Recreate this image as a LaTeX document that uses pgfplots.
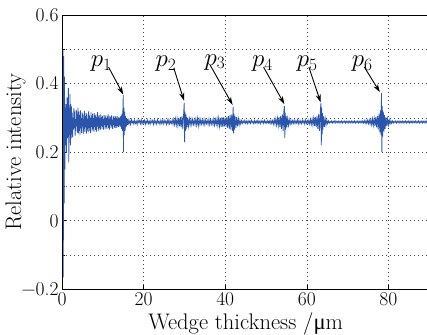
\documentclass[border=0pt]{standalone}
\usepackage{fontspec}
\newfontfamily\gkfont{Liberation Serif}
\usepackage{pgfplots}
\pgfplotsset{compat=1.18}
\usetikzlibrary{arrows.meta,calc}
\definecolor{sig}{RGB}{42,85,170}
\begin{document}
\begin{tikzpicture}
\begin{axis}[
  scale only axis,
  width=366.8pt, height=274pt,
  xmin=0, xmax=90, ymin=-0.2, ymax=0.6,
  xtick={0,20,40,60,80},
  xticklabels={0,20,40,60,80},
  ytick={-0.2,0,0.2,0.4,0.6},
  yticklabels={−0.2,0,0.2,0.4,0.6},
  minor ytick={-0.1,0.1,0.3,0.5},
  grid=both,
  major grid style={line width=0.6pt, dash pattern=on 1pt off 3pt, black!75},
  minor grid style={line width=0.6pt, dash pattern=on 1pt off 3pt, black!75},
  tick align=inside,
  xtick pos=bottom, ytick pos=left,
  major tick length=4pt, minor tick length=3pt,
  axis line style={draw=none},
  every tick/.style={black, line width=0.6pt},
  tick label style={font=\fontsize{19.5}{22}\selectfont},
  label style={font=\fontsize{22.5}{26}\selectfont},
  xlabel={Wedge thickness /{\gkfont μ}m},
  ylabel={Relative intensity},
  xlabel style={at={(rel axis cs:0.5,-0.146)}, anchor=base},
  ylabel style={at={(rel axis cs:-0.1118,0.5)}, anchor=base, rotate=0},
  clip=true,
]
\coordinate (ll) at (rel axis cs:0,0);
\coordinate (ur) at (rel axis cs:1,1);
\addplot[sig, line width=0.8pt] coordinates {
(0.00,0.28) (0.10,-0.12) (0.20,0.50) (0.30,-0.165) (0.40,0.48) (0.50,0.05) (0.60,0.42) (0.70,0.15)
(0.80,0.33) (0.90,0.22) (1.00,0.34) (1.10,0.20) (1.20,0.36) (1.30,0.24) (1.40,0.31) (1.55,0.387)
(1.65,0.17) (1.75,0.33) (1.85,0.25) (1.95,0.37) (2.05,0.22) (2.15,0.34) (2.25,0.24)
(2.3,0.333) (2.4,0.252) (2.5,0.315) (2.6,0.243) (2.7,0.301) (2.8,0.266) (2.9,0.328) (3.0,0.270)
(3.1,0.319) (3.2,0.248) (3.3,0.297) (3.4,0.262) (3.5,0.323) (3.6,0.275) (3.7,0.310) (3.8,0.257)
(3.9,0.330) (4.0,0.255)
(4.1,0.318) (4.2,0.262) (4.3,0.309) (4.4,0.251) (4.5,0.322) (4.6,0.270) (4.7,0.300) (4.8,0.256)
(4.9,0.316) (5.0,0.275) (5.1,0.312) (5.2,0.253) (5.3,0.296) (5.4,0.268) (5.5,0.320) (5.6,0.259)
(5.7,0.305) (5.8,0.272) (5.9,0.314) (6.0,0.254) (6.1,0.310) (6.2,0.266) (6.3,0.298) (6.4,0.258)
(6.5,0.319) (6.6,0.271) (6.7,0.307) (6.8,0.262) (6.9,0.300) (7.0,0.256) (7.1,0.316) (7.2,0.274)
(7.3,0.304) (7.4,0.263) (7.5,0.312) (7.6,0.268) (7.7,0.299) (7.8,0.260) (7.9,0.314) (8.0,0.273)
(8.1,0.306) (8.2,0.265) (8.3,0.310) (8.4,0.259) (8.5,0.301) (8.6,0.276) (8.7,0.317) (8.8,0.267)
(8.9,0.303) (9.0,0.262)
(9.1,0.308) (9.2,0.270) (9.3,0.299) (9.4,0.266) (9.5,0.310) (9.6,0.276) (9.7,0.302) (9.8,0.268)
(9.9,0.306) (10.0,0.273) (10.1,0.297) (10.2,0.265) (10.3,0.309) (10.4,0.279) (10.5,0.300) (10.6,0.269)
(10.7,0.307) (10.8,0.274) (10.9,0.296) (11.0,0.267) (11.1,0.304) (11.2,0.278) (11.3,0.310) (11.4,0.271)
(11.5,0.298) (11.6,0.266) (11.7,0.305) (11.8,0.280) (11.9,0.301) (12.0,0.270) (12.1,0.307) (12.2,0.275)
(12.3,0.295) (12.4,0.268) (12.5,0.303) (12.6,0.279) (12.7,0.306) (12.8,0.272) (12.9,0.297) (13.0,0.270)
(13.1,0.304) (13.2,0.277) (13.3,0.300) (13.4,0.271) (13.5,0.305) (13.6,0.276) (13.7,0.297) (13.8,0.274)
(13.9,0.302) (14.0,0.278) (14.1,0.299) (14.2,0.273) (14.3,0.304) (14.4,0.275) (14.5,0.307) (14.6,0.268)
(14.7,0.312) (14.8,0.262) (14.9,0.318) (15.0,0.366) (15.05,0.200) (15.15,0.330) (15.25,0.250) (15.35,0.318)
(15.45,0.262) (15.55,0.305) (15.65,0.272) (15.75,0.300) (15.85,0.276) (15.95,0.297) (16.05,0.280)
(16.2,0.294) (16.4,0.282) (16.6,0.292) (16.8,0.281) (17.0,0.295) (17.2,0.285) (17.4,0.291) (17.6,0.282)
(17.8,0.293) (18.0,0.284) (18.2,0.290) (18.4,0.281) (18.6,0.294) (18.8,0.286) (19.0,0.292) (19.2,0.283)
(19.4,0.295) (19.6,0.282) (19.8,0.290) (20.0,0.285) (20.2,0.293) (20.4,0.281) (20.6,0.291) (20.8,0.284)
(21.0,0.294) (21.2,0.283) (21.4,0.290) (21.6,0.282) (21.8,0.293) (22.0,0.286) (22.2,0.292) (22.4,0.281)
(22.6,0.294) (22.8,0.284) (23.0,0.291) (23.2,0.282) (23.4,0.295) (23.6,0.285) (23.8,0.290) (24.0,0.281)
(24.2,0.293) (24.4,0.284) (24.6,0.292) (24.8,0.282) (25.0,0.294) (25.2,0.285) (25.4,0.291) (25.6,0.281)
(25.8,0.293) (26.0,0.283) (26.2,0.295) (26.4,0.282) (26.6,0.290) (26.8,0.284) (27.0,0.294) (27.2,0.281)
(27.4,0.296) (27.6,0.280) (27.8,0.297) (28.0,0.279) (28.2,0.298) (28.4,0.277) (28.6,0.300) (28.8,0.275)
(29.0,0.302) (29.2,0.272) (29.4,0.305) (29.6,0.268) (29.8,0.310) (29.95,0.344) (30.05,0.229) (30.15,0.318)
(30.25,0.262) (30.35,0.310) (30.45,0.268) (30.55,0.303) (30.65,0.273) (30.8,0.300) (31.0,0.276) (31.2,0.297)
(31.4,0.279) (31.6,0.296) (31.8,0.280)
(32.0,0.295) (32.2,0.281) (32.4,0.294) (32.6,0.280) (32.8,0.297) (33.0,0.279) (33.2,0.298) (33.4,0.277)
(33.6,0.296) (33.8,0.280) (34.0,0.295) (34.2,0.282) (34.4,0.293) (34.6,0.281) (34.8,0.295) (35.0,0.280)
(35.2,0.294) (35.4,0.283) (35.6,0.292) (35.8,0.281) (36.0,0.296) (36.2,0.280) (36.4,0.294) (36.6,0.282)
(36.8,0.293) (37.0,0.280) (37.2,0.297) (37.4,0.279) (37.6,0.295) (37.8,0.281) (38.0,0.298) (38.2,0.277)
(38.4,0.299) (38.6,0.276) (38.8,0.300) (39.0,0.274) (39.2,0.302) (39.4,0.273) (39.6,0.301) (39.8,0.275)
(40.0,0.300) (40.2,0.274) (40.4,0.303) (40.6,0.271) (40.8,0.305) (41.0,0.268) (41.2,0.308) (41.4,0.265)
(41.6,0.310) (41.8,0.262) (41.95,0.332) (42.05,0.255) (42.15,0.312) (42.25,0.266) (42.4,0.306) (42.6,0.270)
(42.8,0.302) (43.0,0.275) (43.2,0.297) (43.4,0.279) (43.6,0.294) (43.8,0.282)
(44.0,0.292) (44.2,0.284) (44.4,0.291) (44.6,0.285) (44.8,0.293) (45.0,0.284) (45.2,0.290) (45.4,0.283)
(45.6,0.292) (45.8,0.285) (46.0,0.291) (46.2,0.284) (46.4,0.293) (46.6,0.286) (46.8,0.290) (47.0,0.283)
(47.2,0.292) (47.4,0.285) (47.6,0.291) (47.8,0.284) (48.0,0.293) (48.2,0.285) (48.4,0.290) (48.6,0.283)
(48.8,0.292) (49.0,0.286) (49.2,0.291) (49.4,0.284) (49.6,0.293) (49.8,0.285) (50.0,0.290) (50.2,0.284)
(50.4,0.292) (50.6,0.285) (50.8,0.291) (51.0,0.283) (51.2,0.293) (51.4,0.284) (51.6,0.292) (51.8,0.282)
(52.0,0.295) (52.2,0.281) (52.4,0.297) (52.6,0.279) (52.8,0.299) (53.0,0.277) (53.2,0.302) (53.4,0.273)
(53.6,0.306) (53.8,0.268) (54.0,0.310) (54.2,0.262) (54.35,0.316) (54.5,0.334) (54.6,0.241) (54.7,0.315)
(54.8,0.266) (54.95,0.305) (55.1,0.272) (55.3,0.298) (55.5,0.278) (55.7,0.295) (55.9,0.281) (56.1,0.293)
(56.3,0.283)
(56.5,0.292) (56.7,0.284) (56.9,0.293) (57.1,0.283) (57.3,0.291) (57.5,0.285) (57.7,0.294) (57.9,0.282)
(58.1,0.292) (58.3,0.284) (58.5,0.291) (58.7,0.283) (58.9,0.293) (59.1,0.285) (59.3,0.292) (59.5,0.282)
(59.7,0.294) (59.9,0.284) (60.1,0.291) (60.3,0.283) (60.5,0.293) (60.7,0.282) (60.9,0.295) (61.1,0.281)
(61.3,0.297) (61.5,0.279) (61.7,0.299) (61.9,0.276) (62.1,0.302) (62.3,0.273) (62.5,0.305) (62.7,0.268)
(62.9,0.310) (63.1,0.262) (63.3,0.318) (63.45,0.342) (63.55,0.220) (63.65,0.330) (63.75,0.252) (63.85,0.314)
(63.95,0.266) (64.1,0.304) (64.3,0.274) (64.5,0.298) (64.7,0.279) (64.9,0.294) (65.1,0.283)
(65.3,0.291) (65.5,0.285) (65.7,0.290) (65.9,0.286) (66.1,0.291) (66.3,0.285) (66.5,0.290) (66.7,0.286)
(66.9,0.292) (67.1,0.285) (67.3,0.290) (67.5,0.286) (67.7,0.291) (67.9,0.285) (68.1,0.290) (68.3,0.286)
(68.5,0.291) (68.7,0.285) (68.9,0.290) (69.1,0.286) (69.3,0.291) (69.5,0.285) (69.7,0.290) (69.9,0.286)
(70.1,0.291) (70.3,0.285) (70.5,0.290) (70.7,0.286) (70.9,0.291) (71.1,0.285) (71.3,0.290) (71.5,0.286)
(71.7,0.291) (71.9,0.285) (72.1,0.290) (72.3,0.286) (72.5,0.291) (72.7,0.285) (72.9,0.290) (73.1,0.286)
(73.3,0.291) (73.5,0.285) (73.7,0.291) (73.9,0.285) (74.1,0.292) (74.3,0.284) (74.5,0.292) (74.7,0.284)
(74.9,0.293) (75.1,0.283) (75.3,0.294) (75.5,0.282) (75.7,0.295) (75.9,0.280) (76.1,0.297) (76.3,0.278)
(76.5,0.299) (76.7,0.276) (76.9,0.302) (77.1,0.272) (77.3,0.306) (77.5,0.266) (77.7,0.312) (77.9,0.258)
(78.05,0.322) (78.2,0.250) (78.3,0.373) (78.4,0.200) (78.5,0.335) (78.6,0.245) (78.75,0.318) (78.9,0.260)
(79.05,0.308) (79.2,0.268) (79.4,0.301) (79.6,0.275) (79.8,0.297) (80.0,0.279) (80.2,0.294) (80.4,0.282)
(80.6,0.292) (80.8,0.284)
(81.0,0.291) (81.2,0.285) (81.4,0.290) (81.6,0.286) (81.8,0.291) (82.0,0.285) (82.2,0.290) (82.4,0.286)
(82.6,0.291) (82.8,0.285) (83.0,0.290) (83.2,0.286) (83.4,0.291) (83.6,0.285) (83.8,0.290) (84.0,0.286)
(84.2,0.291) (84.4,0.285) (84.6,0.290) (84.8,0.286) (85.0,0.291) (85.2,0.285) (85.4,0.290) (85.6,0.286)
(85.8,0.291) (86.0,0.285) (86.2,0.290) (86.4,0.286) (86.6,0.291) (86.8,0.285) (87.0,0.290) (87.2,0.286)
(87.4,0.291) (87.6,0.285) (87.8,0.290) (88.0,0.286) (88.2,0.291) (88.4,0.285) (88.6,0.290) (88.8,0.286)
(89.0,0.291) (89.2,0.285) (89.4,0.290) (89.6,0.286) (89.8,0.291) (90.0,0.287)
};
\tikzset{pa/.style={-{Stealth[length=8pt,width=5pt]}, line width=0.9pt, black}}
\draw[pa] (axis cs:11.4,0.448) -- (axis cs:15.0,0.368);
\draw[pa] (axis cs:27.4,0.445) -- (axis cs:29.9,0.350);
\draw[pa] (axis cs:36.3,0.454) -- (axis cs:41.8,0.338);
\draw[pa] (axis cs:49.4,0.448) -- (axis cs:54.5,0.340);
\draw[pa] (axis cs:60.5,0.448) -- (axis cs:63.4,0.345);
\draw[pa] (axis cs:74.1,0.448) -- (axis cs:77.9,0.375);
\tikzset{pl/.style={font=\fontsize{24}{28}\selectfont, inner sep=0pt}}
\node[pl] at (axis cs:9.6,0.458) {$p_1$};
\node[pl] at (axis cs:25.5,0.458) {$p_2$};
\node[pl] at (axis cs:37.5,0.462) {$p_3$};
\node[pl] at (axis cs:49.1,0.458) {$p_4$};
\node[pl] at (axis cs:60.1,0.458) {$p_5$};
\node[pl] at (axis cs:73.6,0.458) {$p_6$};
\end{axis}
\draw[line width=0.9pt, line cap=rect] (ur) -- (ur -| ll) -- (ll) -- (ll -| ur);
\pgfresetboundingbox
\path ($(ll)+(-62pt,-45pt)$) rectangle ($(ur)+(-2.2pt,15pt)$);
\end{tikzpicture}
\end{document}
